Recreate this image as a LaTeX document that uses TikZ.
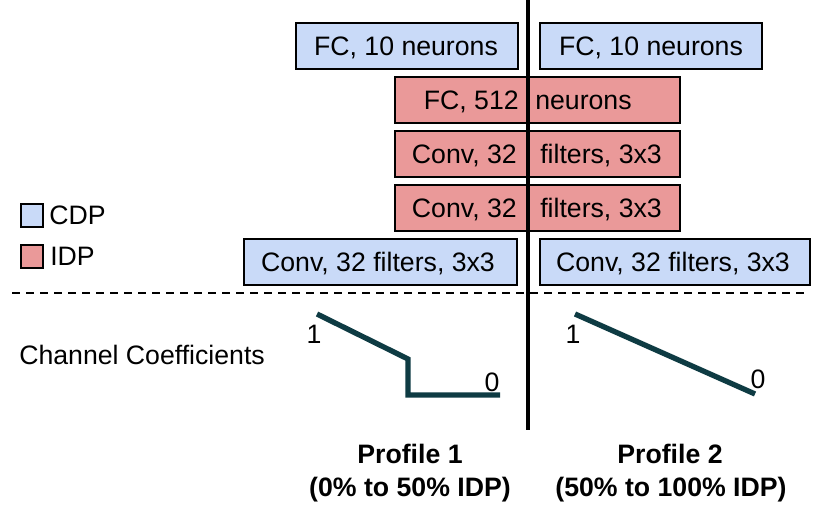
\documentclass[tikz,border=0pt]{standalone}
\usepackage{fontspec}
\setmainfont{Liberation Sans}
\definecolor{cdpblue}{HTML}{C9DAF8}
\definecolor{idpred}{HTML}{EA9999}
\definecolor{curve}{HTML}{0E3B43}
\begin{document}
\begin{tikzpicture}[x=0.75pt,y=-0.75pt,
  every node/.style={font=\fontsize{20}{24}\selectfont},
  layerbox/.style={draw=black, line width=1.4pt, inner sep=0pt, minimum height=46*0.75pt},
  cdpbox/.style={layerbox, fill=cdpblue},
  idpbox/.style={layerbox, fill=idpred},
  legendbox/.style={draw=black, line width=1.4pt, inner sep=0pt, minimum width=22*0.75pt, minimum height=23*0.75pt},
  lbl/.style={inner sep=0pt},
  coef/.style={draw=curve, line width=4pt, line cap=butt, line join=miter},
  bold/.style={inner sep=0pt, font=\fontsize{20}{24}\selectfont\bfseries}
]
\useasboundingbox (0,0) rectangle (830,516);

% layer boxes
\node[cdpbox, minimum width=222*0.75pt] (b1) at (407,46) {};
\node[cdpbox, minimum width=222*0.75pt] (b2) at (651,46) {};
\node[idpbox, minimum width=285*0.75pt] (r1) at (537.5,100) {};
\node[idpbox, minimum width=285*0.75pt] (r2) at (537.5,154) {};
\node[idpbox, minimum width=285*0.75pt] (r3) at (537.5,208) {};
\node[cdpbox, minimum width=273*0.75pt] (b3) at (380.5,262) {};
\node[cdpbox, minimum width=270*0.75pt] (b4) at (675,262) {};

% box texts
\node[lbl, anchor=base] (t1) at (406,55.5) {FC, 10 neurons};
\node[lbl, anchor=base] (t2) at (651,55.5) {FC, 10 neurons};
\node[lbl, anchor=base east] (t3a) at (519,109.5) {FC, 512};
\node[lbl, anchor=base west] (t3b) at (535,109.5) {neurons};
\node[lbl, anchor=base east] (t4a) at (517,163.5) {Conv, 32};
\node[lbl, anchor=base west] (t4b) at (540,163.5) {filters, 3x3};
\node[lbl, anchor=base east] (t5a) at (517,217.5) {Conv, 32};
\node[lbl, anchor=base west] (t5b) at (540,217.5) {filters, 3x3};
\node[lbl, anchor=base] (t6) at (378,271.5) {Conv, 32 filters, 3x3};
\node[lbl, anchor=base] (t7) at (673,271.5) {Conv, 32 filters, 3x3};

% legend
\node[legendbox, fill=cdpblue] (lc) at (32,215.5) {};
\node[legendbox, fill=idpred] (li) at (32,256.5) {};
\node[lbl, anchor=base west] (lct) at (49,224.5) {CDP};
\node[lbl, anchor=base west] (lit) at (50,265.5) {IDP};

% divider lines
\coordinate (vtop) at (528,0);
\coordinate (vbot) at (528,430);
\draw[line width=3pt] (vtop) -- (vbot);
\coordinate (dl) at (12,293);
\coordinate (dr) at (810,293);
\draw[line width=1.1pt, dash pattern=on 6pt off 4.5pt] (dl) -- (dr);

% channel coefficients
\node[lbl, anchor=base west] (cc) at (19,364) {Channel Coefficients};

\coordinate (p1a) at (317,314);
\coordinate (p1b) at (408,359);
\coordinate (p1c) at (408,395);
\coordinate (p1d) at (500,395);
\draw[coef] (p1a) -- (p1b) -- (p1c) -- (p1d);
\node[lbl, anchor=base] (one1) at (314,343) {1};
\node[lbl, anchor=base] (zero1) at (492,391) {0};

\coordinate (p2a) at (575,314);
\coordinate (p2b) at (755,394);
\draw[coef] (p2a) -- (p2b);
\node[lbl, anchor=base] (one2) at (573,343) {1};
\node[lbl, anchor=base] (zero2) at (758,388) {0};

% profile captions
\node[bold, anchor=base] (pr1) at (410,463) {Profile 1};
\node[bold, anchor=base] (pr1b) at (410,496) {(0\% to 50\% IDP)};
\node[bold, anchor=base] (pr2) at (670,463) {Profile 2};
\node[bold, anchor=base] (pr2b) at (671,496) {(50\% to 100\% IDP)};
\end{tikzpicture}
\end{document}
